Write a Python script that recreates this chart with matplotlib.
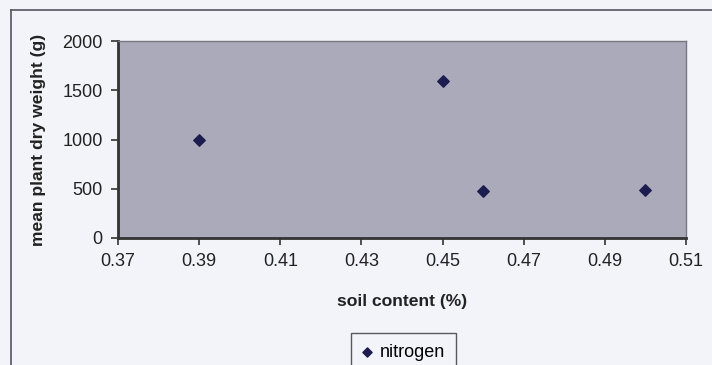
import matplotlib
matplotlib.use("Agg")
import matplotlib.pyplot as plt
from matplotlib.lines import Line2D

plt.rcParams["font.family"] = ["Liberation Sans", "DejaVu Sans"]

# ── data ──────────────────────────────────────────────────────────────────────
soil_content = [0.39, 0.45, 0.46, 0.50]
dry_weight   = [1000, 1590, 475, 490]
series_name  = "nitrogen"
x_ticks = [0.37, 0.39, 0.41, 0.43, 0.45, 0.47, 0.49, 0.51]
y_ticks = [0, 500, 1000, 1500, 2000]

# ── figure ────────────────────────────────────────────────────────────────────
W, H = 712, 365
fig = plt.figure(figsize=(W / 100, H / 100), dpi=100, facecolor="#f3f3fa")
ax = fig.add_axes([118 / W, 1 - 238 / H, (686 - 118) / W, (238 - 41) / H])
ax.set_facecolor("#aaaabb")

ax.scatter(soil_content, dry_weight, marker="D", s=34, color="#1c1c4e",
           zorder=5, label=series_name)

ax.set_xlim(0.37, 0.51)
ax.set_ylim(0, 2000)
ax.set_xticks(x_ticks)
ax.set_xticklabels([f"{t:.2f}" for t in x_ticks])
ax.set_yticks(y_ticks)
ax.tick_params(axis="both", direction="out", length=5, width=1.2,
               color="#333333", labelsize=13, pad=6, labelcolor="#222222")

for side in ("left", "bottom"):
    ax.spines[side].set_color("#333333")
    ax.spines[side].set_linewidth(2.0)
for side in ("top", "right"):
    ax.spines[side].set_color("#777780")
    ax.spines[side].set_linewidth(1.0)

ax.set_xlabel("soil content (%)", fontsize=12.6, fontweight="bold",
              color="#222222", labelpad=17)
ax.set_ylabel("mean plant dry weight (g)", fontsize=12.6, fontweight="bold",
              color="#222222", labelpad=12)

# legend, bottom edge runs off the picture as in the scan
leg = fig.legend(loc="upper left", bbox_to_anchor=(351 / W, 1 - 333 / H),
                 borderaxespad=0, fontsize=13, frameon=True, fancybox=False,
                 handlelength=0.6, handletextpad=0.4, borderpad=0.6,
                 markerscale=0.8)
leg.get_frame().set_edgecolor("#333333")
leg.get_frame().set_facecolor("#f3f3fa")
leg.get_frame().set_linewidth(1.0)

# chart area border (top and left edges visible)
fig.add_artist(Line2D([11 / W, 1.0], [1 - 10 / H, 1 - 10 / H],
                      transform=fig.transFigure, color="#555560", lw=1.2))
fig.add_artist(Line2D([11 / W, 11 / W], [0.0, 1 - 10 / H],
                      transform=fig.transFigure, color="#555560", lw=1.2))

fig.savefig("out.png", dpi=100, facecolor=fig.get_facecolor())
plt.close(fig)
